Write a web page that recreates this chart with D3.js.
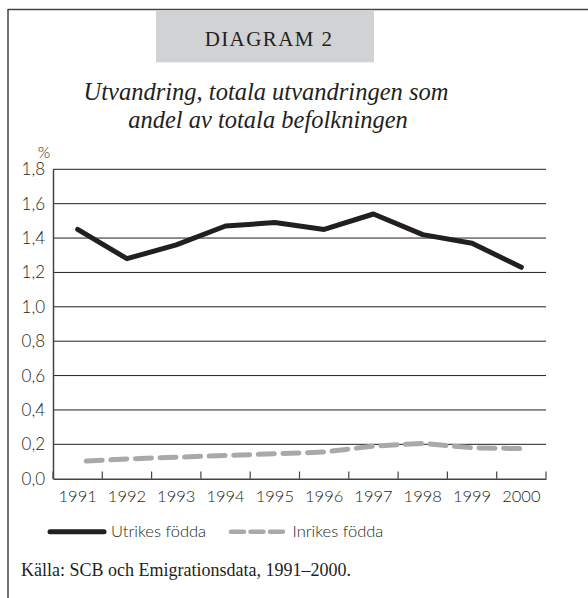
<!DOCTYPE html>
<html><head><meta charset="utf-8">
<script src="https://cdn.jsdelivr.net/npm/d3@7"></script>
<style>
html,body{margin:0;padding:0;background:#fff;}
svg{display:block;}
</style></head>
<body>
<svg id="chart" width="588" height="598"></svg>
<script>
const years = ["1991","1992","1993","1994","1995","1996","1997","1998","1999","2000"];
const utrikes = [1.45, 1.28, 1.36, 1.47, 1.49, 1.45, 1.54, 1.42, 1.37, 1.23];
const inrikes = [0.10, 0.115, 0.125, 0.135, 0.145, 0.155, 0.19, 0.205, 0.18, 0.175];
const yTicks = [0, 0.2, 0.4, 0.6, 0.8, 1.0, 1.2, 1.4, 1.6, 1.8];
const seriesNames = ["Utrikes födda", "Inrikes födda"];

const svg = d3.select("#chart");
const dark = "#231f20", gray = "#a7a9ac";
const sans = "Lato, 'Open Sans', sans-serif";
const serif = "'Liberation Serif', 'Times New Roman', serif";

// frame
svg.append("line").attr("x1",8).attr("x2",588).attr("y1",9.5).attr("y2",9.5).attr("stroke","#444").attr("stroke-width",1.5);
svg.append("line").attr("x1",8).attr("x2",8).attr("y1",9).attr("y2",598).attr("stroke","#444").attr("stroke-width",1.5);

// title box
svg.append("rect").attr("x",156).attr("y",10.3).attr("width",218).attr("height",52).attr("fill","#d1d2d4");
svg.append("text").attr("x",269).attr("y",46).attr("text-anchor","middle")
  .attr("font-family",serif).attr("font-size",21).attr("letter-spacing",1.4).attr("fill",dark)
  .text("DIAGRAM 2");

svg.append("text").attr("x",266).attr("y",100).attr("text-anchor","middle")
  .attr("font-family",serif).attr("font-style","italic").attr("font-size",24.5).attr("fill",dark)
  .text("Utvandring, totala utvandringen som");
svg.append("text").attr("x",268).attr("y",128).attr("text-anchor","middle")
  .attr("font-family",serif).attr("font-style","italic").attr("font-size",24.5).attr("fill",dark)
  .text("andel av totala befolkningen");

const x = d3.scaleBand().domain(years).range([53, 546]);
const y = d3.scaleLinear().domain([0, 1.8]).range([478.7, 169.3]);

// grid
svg.append("g").selectAll("line").data(yTicks.filter(d=>d>0)).join("line")
  .attr("x1",53).attr("x2",546).attr("y1",d=>y(d)).attr("y2",d=>y(d))
  .attr("stroke",dark).attr("stroke-width",1);

// y axis
const yAxis = svg.append("g").attr("transform","translate(53,0)")
  .call(d3.axisLeft(y).tickValues(yTicks).tickSize(0).tickPadding(8)
    .tickFormat(d=>d3.format(".1f")(d).replace(".",",")));
yAxis.select(".domain").attr("stroke","#444").attr("stroke-width",1.5);
yAxis.selectAll("text").attr("font-family",sans).attr("font-weight",300).attr("font-size",17).attr("fill",dark);

svg.append("text").attr("x",44).attr("y",158).attr("text-anchor","middle")
  .attr("font-family",sans).attr("font-weight",300).attr("font-size",16).attr("fill",dark).text("%");

// x axis
const xAxis = svg.append("g").attr("transform","translate(0,478.7)")
  .call(d3.axisBottom(x).tickSize(0).tickPadding(12));
xAxis.select(".domain").attr("stroke","#444").attr("stroke-width",1.5);
xAxis.selectAll("text").attr("font-family",sans).attr("font-weight",300).attr("font-size",16.5).attr("fill",dark);
// inward ticks at band boundaries
const bounds = years.map(d=>x(d)).concat([x(years[years.length-1]) + x.bandwidth()]);
svg.append("g").selectAll("line").data(bounds).join("line")
  .attr("x1",d=>d).attr("x2",d=>d).attr("y1",478.7).attr("y2",471.5)
  .attr("stroke","#444").attr("stroke-width",1.2);

const line = d3.line().x((d,i)=>x(years[i]) + x.bandwidth()/2).y(d=>y(d));

svg.append("path").datum(inrikes).attr("d",line)
  .attr("fill","none").attr("stroke",gray).attr("stroke-width",5)
  .attr("stroke-linecap","round").attr("stroke-linejoin","round")
  .attr("stroke-dasharray","16 8.6").attr("stroke-dashoffset",16);

svg.append("path").datum(utrikes).attr("d",line)
  .attr("fill","none").attr("stroke",dark).attr("stroke-width",5)
  .attr("stroke-linejoin","round").attr("stroke-linecap","round");

// legend
const ly = 531.7;
svg.append("line").attr("x1",50).attr("x2",104).attr("y1",ly).attr("y2",ly)
  .attr("stroke",dark).attr("stroke-width",5).attr("stroke-linecap","round");
svg.append("text").attr("x",111).attr("y",ly+5.5).attr("font-family",sans).attr("font-weight",300)
  .attr("font-size",16.5).attr("fill",dark).text(seriesNames[0]);
svg.append("line").attr("x1",231).attr("x2",284).attr("y1",ly).attr("y2",ly)
  .attr("stroke",gray).attr("stroke-width",4.5).attr("stroke-linecap","round")
  .attr("stroke-dasharray","13 6.5");
svg.append("text").attr("x",292.5).attr("y",ly+5.5).attr("font-family",sans).attr("font-weight",300)
  .attr("font-size",16.5).attr("fill",dark).text(seriesNames[1]);

svg.append("text").attr("x",21).attr("y",576).attr("font-family",serif).attr("font-size",18)
  .attr("fill",dark).text("Källa: SCB och Emigrationsdata, 1991–2000.");
</script>
</body></html>
